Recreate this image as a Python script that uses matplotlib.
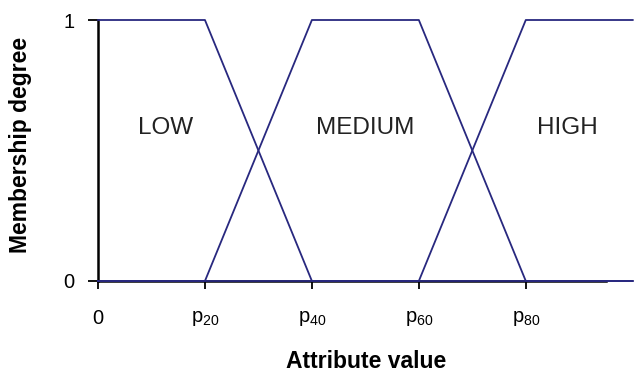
import matplotlib.pyplot as plt

plt.rcParams["font.family"] = ["Liberation Sans", "DejaVu Sans"]
plt.rcParams["mathtext.default"] = "regular"

# Breakpoints along the attribute axis (p0, p20, p40, p60, p80, end)
breakpoints = [0, 1, 2, 3, 4, 5]
low = [1, 1, 0, 0, 0, 0]
medium = [0, 0, 1, 1, 0, 0]
high = [0, 0, 0, 0, 1, 1]
set_names = ["LOW", "MEDIUM", "HIGH"]
label_x = [0.63, 2.5, 4.39]
label_y = 0.586
tick_pos = [0, 1, 2, 3, 4]
tick_labels = ["0", "$p_{20}$", "$p_{40}$", "$p_{60}$", "$p_{80}$"]

LINE = "#28287f"

fig = plt.figure(figsize=(6.34, 3.74), dpi=100)
ax = fig.add_axes([98 / 634, 93 / 374, 508 / 634, 261 / 374])

for vals in (low, medium, high):
    ax.plot(breakpoints, vals, color=LINE, lw=1.3, clip_on=False, zorder=3)

for name, x in zip(set_names, label_x):
    ax.text(x, label_y, name, ha="center", va="center", fontsize=17.5, color="#222222")

ax.set_xlim(0, 4.75)
ax.set_ylim(0, 1)
ax.spines["top"].set_visible(False)
ax.spines["right"].set_visible(False)
ax.spines["left"].set_linewidth(1.8)
ax.spines["bottom"].set_linewidth(1.8)

ax.set_xticks(tick_pos)
ax.set_xticklabels(tick_labels, fontsize=14.5)
ax.set_yticks([0, 1])
ax.set_yticklabels(["0", "1"], fontsize=14.5)
ax.tick_params(axis="x", length=6, width=1.3, pad=14)
ax.tick_params(axis="y", length=7, width=1.3, pad=10)

ax.set_xlabel("Attribute value", fontsize=16.5, fontweight="bold")
ax.set_ylabel("Membership degree", fontsize=16.5, fontweight="bold")
ax.xaxis.set_label_coords((366 - 98) / 508, -(361 - 281) / 261)
ax.xaxis.label.set_va("center")
ax.yaxis.set_label_coords(-(98 - 21) / 508, (281 - 145) / 261)
ax.yaxis.label.set_va("center")

fig.savefig("out.png", dpi=100)
